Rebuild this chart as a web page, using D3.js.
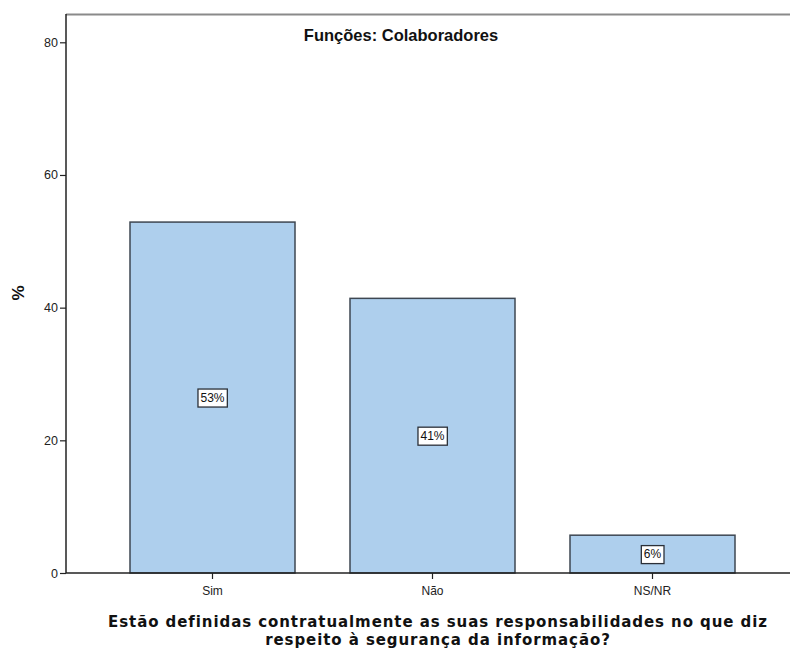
<!DOCTYPE html>
<html><head><meta charset="utf-8">
<script src="https://cdn.jsdelivr.net/npm/d3@7"></script>
<style>
body{margin:0;background:#fff;}
svg{display:block;font-family:Arial,"Liberation Sans",sans-serif;}
</style></head>
<body>
<svg id="c" width="790" height="651"></svg>
<script>
const categories = ["Sim", "Não", "NS/NR"];
const values = [52.9, 41.4, 5.7];
const labels = ["53%", "41%", "6%"];
const yTicks = [0, 20, 40, 60, 80];
const chartTitle = "Funções: Colaboradores";
const xTitleLines = ["Estão definidas contratualmente as suas responsabilidades no que diz", "respeito à segurança da informação?"];
const yTitle = "%";

const svg = d3.select("#c");
const W = 790, H = 651;
const plotLeft = 66, plotTop = 14, plotBottom = 573;

const y = d3.scaleLinear().domain([0, 80]).range([plotBottom, 42.3]);
const x = d3.scaleBand().domain(categories).range([75, 790]).paddingInner(0.25).paddingOuter(0.25);

// top frame line
svg.append("line").attr("x1", plotLeft).attr("x2", W).attr("y1", plotTop + 0.5).attr("y2", plotTop + 0.5)
  .attr("stroke", "#8a8a8a").attr("stroke-width", 2);

// bars
svg.selectAll("rect.bar").data(categories).enter().append("rect")
  .attr("class", "bar")
  .attr("x", d => x(d))
  .attr("width", x.bandwidth())
  .attr("y", (d, i) => y(values[i]))
  .attr("height", (d, i) => y(0) - y(values[i]))
  .attr("fill", "#aecfed")
  .attr("stroke", "#3e4752")
  .attr("stroke-width", 1.5);

// y axis
const yAxis = d3.axisLeft(y).tickValues(yTicks).tickSize(6).tickPadding(2).tickFormat(d3.format("d"));
const gy = svg.append("g").attr("transform", `translate(${plotLeft},0)`).call(yAxis);
gy.select(".domain").remove();
gy.selectAll(".tick line").attr("stroke", "#222").attr("stroke-width", 1.2);
gy.selectAll(".tick text").attr("fill", "#222").style("font-size", "12.5px").style("font-family", "Arial,'Liberation Sans',sans-serif");
svg.append("line").attr("x1", plotLeft).attr("x2", plotLeft).attr("y1", plotTop).attr("y2", plotBottom)
  .attr("stroke", "#222").attr("stroke-width", 1.5);

// x axis
const xAxis = d3.axisBottom(x).tickSize(6).tickPadding(7);
const gx = svg.append("g").attr("transform", `translate(0,${plotBottom})`).call(xAxis);
gx.select(".domain").remove();
gx.selectAll(".tick line").attr("stroke", "#222").attr("stroke-width", 1.2);
gx.selectAll(".tick text").attr("fill", "#222").style("font-size", "12px").style("font-family", "Arial,'Liberation Sans',sans-serif");
svg.append("line").attr("x1", plotLeft).attr("x2", W).attr("y1", plotBottom).attr("y2", plotBottom)
  .attr("stroke", "#222").attr("stroke-width", 1.5);

// value labels
categories.forEach((c, i) => {
  const cx = x(c) + x.bandwidth() / 2;
  const cy = (y(values[i]) + y(0)) / 2;
  const g = svg.append("g");
  const t = g.append("text").attr("x", cx).attr("y", cy).attr("text-anchor", "middle")
    .attr("dy", "0.36em").style("font-size", "12px").attr("fill", "#111").text(labels[i]);
  const bb = t.node().getBBox();
  g.insert("rect", "text").attr("x", bb.x - 2.5).attr("y", cy - 8.5).attr("width", bb.width + 5).attr("height", 18)
    .attr("fill", "#fff").attr("stroke", "#2b3038").attr("stroke-width", 1.3);
});

// chart title
svg.append("text").attr("x", 401).attr("y", 41).attr("text-anchor", "middle")
  .style("font-size", "16.5px").style("font-weight", "bold").attr("fill", "#111").text(chartTitle);

// y title
svg.append("text").attr("transform", "translate(24,293) rotate(-90)").attr("text-anchor", "middle")
  .style("font-size", "17px").style("font-weight", "bold").attr("fill", "#111").text(yTitle);

// x title: 15px font, letter-spacing fitted so first line spans reference width
const xts = xTitleLines.map((l, i) => svg.append("text").attr("text-anchor", "middle").attr("fill", "#111")
  .attr("x", 438).attr("y", 627 + i * 17.6)
  .style("font-family", "'DejaVu Sans',Verdana,sans-serif")
  .style("font-size", "15px").style("font-weight", "bold").text(l));
const w0 = xts[0].node().getComputedTextLength();
const ls = Math.max(0, (659 - w0) / (xTitleLines[0].length));
xts.forEach(t => t.style("letter-spacing", ls.toFixed(2) + "px"));
</script>
</body></html>
